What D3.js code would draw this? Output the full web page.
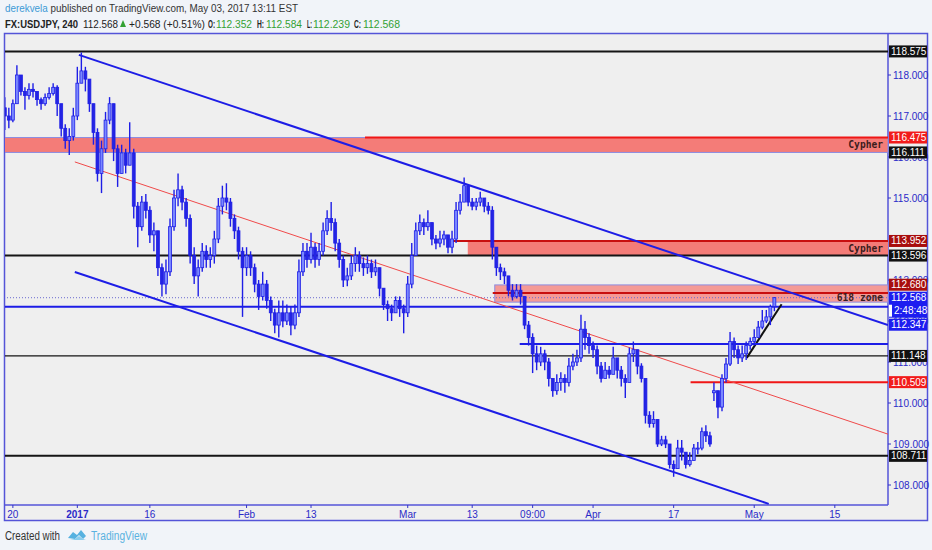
<!DOCTYPE html>
<meta charset="utf-8">
<style>
    body { margin: 0; background: #f1f4f9; }
    svg { display: block; font-family: "Liberation Sans", Arial, sans-serif; }
    .ptick text, .ttick text { fill: #2a2ac8; font-size: 10px; }
    .tag text { fill: #fff; font-size: 10px; }
    .zname { font-family: "DejaVu Sans Mono", monospace; font-weight: bold; font-size: 9.6px; fill: #3b1c1c; }
</style>
<body>
<script src="https://d3js.org/d3.v7.min.js"></script>
<script>
// 12h bars, USDJPY, starting one session before Dec 20
var firstDay = -1, barStep = 0.5, firstOpen = 117.2;
var closes = [
 117.0, 116.9, 117.3, 118.0, 117.6, 117.5, 117.65, 117.6, 117.4, 117.3,
 117.45, 117.55, 117.7, 117.3, 116.7, 116.4, 116.5, 117.0, 117.8, 118.1,
 117.9, 117.3, 116.6, 115.6, 116.2, 116.9, 117.3, 116.2, 115.6, 116.1,
 115.8, 116.1, 114.8, 114.3, 114.9, 114.7, 114.1, 114.2, 113.3, 112.9,
 113.2, 114.3, 115.0, 115.2, 114.9, 114.5, 113.6, 113.1, 113.3, 113.7,
 113.5, 113.6, 114.0, 114.8, 115.0, 114.9, 114.5, 114.2, 113.7, 113.3,
 113.6, 113.3, 112.9, 112.6, 112.9, 112.5, 112.2, 111.9, 112.2, 112.0,
 112.2, 111.9, 112.2, 113.2, 113.7, 113.5, 113.8, 113.5, 113.7, 114.2,
 114.5, 114.4, 113.9, 113.5, 113.0, 113.1, 113.4, 113.6, 113.4, 113.3,
 113.4, 113.2, 113.3, 112.8, 112.4, 112.3, 112.2, 112.5, 112.3, 112.2,
 112.9, 113.6, 114.2, 114.4, 114.3, 114.4, 114.0, 113.9, 114.0, 114.1,
 113.8, 114.0, 114.7, 114.9, 115.3, 114.9, 114.8, 114.9, 115.0, 114.8,
 114.7, 113.8, 113.3, 113.2, 113.1, 112.75, 112.6, 112.75, 112.6, 111.9,
 111.6, 111.2, 111.0, 111.2, 111.0, 110.6, 110.3, 110.5, 110.6, 110.5,
 110.9, 111.0, 111.1, 111.8, 111.6, 111.4, 111.3, 110.9, 110.6, 110.8,
 110.7, 111.1, 110.8, 110.6, 110.5, 111.2, 111.3, 110.9, 110.6, 109.7,
 109.5, 109.6, 109.0, 109.1, 109.0, 108.5, 108.4, 108.9, 108.8, 108.5,
 108.6, 108.9, 108.9, 109.3, 109.2, 109.0, 110.3, 109.9, 110.6, 110.95,
 111.5, 111.3, 111.1, 111.2, 111.4, 111.5, 111.6, 111.85, 112.0, 112.1,
 112.352, 112.568
];
var highs = [
 117.46, 117.2, 117.4, 118.24, 118.0, 117.7, 117.8, 117.8, 117.6, 117.45,
 117.55, 117.7, 117.8, 117.75, 117.1, 116.8, 116.7, 117.2, 118.2, 118.55,
 118.2, 117.7, 117.2, 116.7, 116.4, 117.1, 117.46, 117.2, 116.3, 116.3,
 116.2, 116.85, 116.2, 114.9, 115.05, 115.1, 114.8, 114.4, 114.2, 113.4,
 113.5, 114.5, 115.2, 115.6, 115.3, 115.0, 114.6, 113.8, 113.5, 113.9,
 113.85, 113.8, 114.2, 115.0, 115.3, 115.36, 115.0, 114.6, 114.3, 113.8,
 113.8, 113.7, 113.4, 113.0, 113.2, 113.0, 112.6, 112.3, 112.5, 112.5,
 112.4, 112.35, 112.4, 113.5, 113.9, 113.9, 114.15, 113.9, 113.9, 114.4,
 114.7, 114.9, 114.5, 114.0, 113.6, 113.3, 113.6, 113.8, 113.7, 113.55,
 113.6, 113.5, 113.5, 113.3, 112.8, 112.5, 112.4, 112.6, 112.6, 112.4,
 113.1, 113.9, 114.4, 114.6, 114.5, 114.7, 114.4, 114.1, 114.2, 114.2,
 114.1, 114.2, 114.9, 115.1, 115.5, 115.3, 115.0, 115.0, 115.15, 115.0,
 114.9, 114.8, 113.6, 113.4, 113.3, 113.1, 112.9, 112.9, 112.9, 112.6,
 112.0, 111.7, 111.4, 111.37, 111.3, 111.1, 110.6, 110.7, 110.75, 110.7,
 111.1, 111.2, 111.3, 112.15, 112.0, 111.7, 111.5, 111.4, 111.0, 111.0,
 110.9, 111.37, 111.1, 110.9, 110.7, 111.35, 111.5, 111.3, 110.97, 110.6,
 109.8, 109.8, 109.6, 109.2, 109.2, 109.0, 108.6, 109.1, 109.1, 108.8,
 108.8, 109.0, 109.05, 109.4, 109.46, 109.3, 110.5, 110.3, 110.7, 111.1,
 111.73, 111.6, 111.4, 111.4, 111.5, 111.6, 111.8, 112.0, 112.27, 112.27,
 112.4, 112.584
];
var lows = [
 116.66, 116.7, 116.85, 117.3, 117.5, 117.15, 117.4, 117.45, 117.25, 117.15,
 117.25, 117.4, 117.5, 117.0, 116.5, 116.2, 116.05, 116.4, 116.9, 117.8,
 117.6, 117.1, 116.3, 115.4, 115.12, 116.1, 116.8, 115.9, 115.27, 115.6,
 115.6, 115.8, 114.5, 113.8, 114.2, 114.5, 113.9, 113.7, 113.1, 112.6,
 112.65, 113.1, 114.2, 114.8, 114.7, 114.3, 113.4, 112.9, 112.6, 113.2,
 113.3, 113.3, 113.4, 113.9, 114.6, 114.7, 114.3, 114.0, 113.5, 112.1,
 113.1, 113.1, 112.7, 112.27, 112.5, 112.3, 112.0, 111.7, 111.6, 111.85,
 111.9, 111.65, 111.8, 112.1, 113.1, 113.3, 113.4, 113.3, 113.35, 113.6,
 114.1, 114.2, 113.7, 113.3, 112.83, 112.85, 113.0, 113.2, 113.2, 113.1,
 113.15, 113.05, 113.1, 112.6, 112.27, 112.0, 112.0, 112.2, 112.1, 111.7,
 112.1, 112.8, 113.6, 114.1, 114.1, 114.2, 113.85, 113.75, 113.8, 113.85,
 113.65, 113.65, 113.9, 114.6, 114.9, 114.8, 114.7, 114.7, 114.8, 114.65,
 114.6, 113.5, 113.1, 113.0, 112.9, 112.6, 112.5, 112.55, 112.4, 111.8,
 111.4, 110.73, 110.8, 110.9, 110.8, 110.4, 110.15, 110.2, 110.3, 110.25,
 110.4, 110.8, 110.9, 111.0, 111.3, 111.2, 111.1, 110.7, 110.5, 110.6,
 110.6, 110.7, 110.6, 110.4, 110.12, 110.5, 111.0, 110.7, 110.5, 109.5,
 109.4, 109.4, 108.93, 108.95, 108.9, 108.4, 108.2, 108.4, 108.6, 108.4,
 108.45, 108.6, 108.75, 108.85, 109.05, 108.93, 110.05, 109.63, 109.8, 110.5,
 110.9, 111.1, 110.95, 111.0, 111.05, 111.3, 111.4, 111.6, 111.8, 111.95,
 111.9, 112.239
];
// weekend gap (French election open)
var gapBars = [176];
var gapOpens = [110.25];

var priceTicks = [108, 109, 110, 111, 112, 113, 114, 115, 116, 117, 118];
var timeTicks = [0, 8, 17, 29, 37, 49, 57, 64.5, 72, 82, 92, 102];
var timeLabels = ["20", "2017", "16", "Feb", "13", "Mar", "13", "09:00", "Apr", "17", "May", "15"];

// drawings
var blackLevels = [118.575, 113.596, 111.148, 108.711];
var blueLevel = 112.347;
var lastPrice = 112.568;
var zoneFrom = [-1.1, 56.45, 59.8];
var zoneTop = [116.475, 113.952, 112.88];
var zoneBottom = [116.111, 113.596, 112.46];
var zoneNames = ["Cypher", "Cypher", "618 zone"];
var redFrom = [43.7, 54.6, 59.55, 84.1];
var redPrice = [116.475, 113.952, 112.68, 110.509];
var trendD1 = [8.19, 7.69, 7.69, 91.07, 62.9];
var trendP1 = [118.49, 113.195, 115.88, 111.1, 111.44];
var trendD2 = [108.6, 93.8, 108.6, 95.4, 108.6];
var trendP2 = [111.9, 107.54, 109.24, 112.41, 111.44];
var trendColor = ["#1d1de6", "#1d1de6", "#f04a4a", "#111", "#1d1de6"];
var trendWidth = [2, 2, 1, 2, 2];

// right-hand price tags
var tagPrice = [118.575, 116.475, 116.111, 113.952, 113.596, 112.680, 112.347, 111.148, 110.509, 108.711];
var tagColor = ["#111", "#f21b1b", "#111", "#a80d0d", "#111", "#a80d0d", "#1d1df0", "#111", "#f21b1b", "#111"];

var W = 932, H = 550;
var L = 4, R = 888, T = 34, B = 505;

var svg = d3.select("body").append("svg").attr("width", W).attr("height", H);
svg.append("rect").attr("width", W).attr("height", H).attr("fill", "#f1f4f9");

var x = d3.scaleLinear().domain([-1.1, 108.6]).range([L, R]);
var y = d3.scaleLinear().domain([108, 118]).range([485, 75]);

// frame
svg.append("rect").attr("x", L + 0.5).attr("y", T - 0.5).attr("width", 923).attr("height", 487)
    .attr("fill", "#efefef").attr("stroke", "#5454d8").attr("stroke-width", 1.5);
svg.append("line").attr("x1", R).attr("x2", R).attr("y1", T).attr("y2", B).attr("stroke", "#5454d8").attr("stroke-width", 1.5);
svg.append("line").attr("x1", L).attr("x2", R).attr("y1", B).attr("y2", B).attr("stroke", "#5454d8").attr("stroke-width", 1.5);

svg.append("clipPath").attr("id", "plot").append("rect")
    .attr("x", L + 1).attr("y", T).attr("width", R - L - 1).attr("height", B - T);
var g = svg.append("g").attr("clip-path", "url(#plot)");

// zones
zoneTop.forEach(function(tp, i) {
    g.append("rect")
        .attr("x", x(zoneFrom[i])).attr("y", y(tp))
        .attr("width", R - x(zoneFrom[i])).attr("height", y(zoneBottom[i]) - y(tp))
        .attr("fill", i == 2 ? "#f49a96" : "#f47c78")
        .attr("stroke", i == 1 ? "none" : "#8c8ce0").attr("stroke-width", 1);
});

// full width levels
blackLevels.forEach(function(p, i) {
    g.append("line").attr("x1", L).attr("x2", R).attr("y1", y(p)).attr("y2", y(p))
        .attr("stroke", "#151515").attr("stroke-width", i == 2 ? 1.2 : 2);
});
g.append("line").attr("x1", L).attr("x2", R).attr("y1", y(blueLevel)).attr("y2", y(blueLevel))
    .attr("stroke", "#1d1de6").attr("stroke-width", 2);
g.append("line").attr("x1", L).attr("x2", R).attr("y1", y(lastPrice)).attr("y2", y(lastPrice))
    .attr("stroke", "#6a6ad0").attr("stroke-width", 1).attr("stroke-dasharray", "1,2");

redPrice.forEach(function(p, i) {
    g.append("line").attr("x1", x(redFrom[i])).attr("x2", R).attr("y1", y(p)).attr("y2", y(p))
        .attr("stroke", i == 1 || i == 2 ? "#c80f0f" : "#f01616").attr("stroke-width", 2);
});

// trend lines
trendD1.forEach(function(d, i) {
    g.append("line")
        .attr("x1", x(d)).attr("y1", y(trendP1[i]))
        .attr("x2", x(trendD2[i])).attr("y2", y(trendP2[i]))
        .attr("stroke", trendColor[i]).attr("stroke-width", trendWidth[i]);
});

// candles
var bars = closes.map(function(c, i) {
    var k = gapBars.indexOf(i);
    var o = k >= 0 ? gapOpens[k] : (i ? closes[i - 1] : firstOpen);
    return { d: firstDay + i * barStep, o: o, h: highs[i], l: lows[i], c: c };
});
var bw = (x(barStep) - x(0)) * 0.72;
var cg = g.append("g").selectAll("g").data(bars).join("g");
cg.append("line")
    .attr("x1", d => x(d.d)).attr("x2", d => x(d.d))
    .attr("y1", d => y(Math.max(d.h, d.o, d.c))).attr("y2", d => y(Math.min(d.l, d.o, d.c)))
    .attr("stroke", "#1e1ee6").attr("stroke-width", 1.4);
cg.append("rect")
    .attr("x", d => x(d.d) - bw / 2).attr("width", bw)
    .attr("y", d => y(Math.max(d.o, d.c)))
    .attr("height", d => Math.max(1, Math.abs(y(d.o) - y(d.c))))
    .attr("fill", d => d.c >= d.o ? "#7a88ff" : "#2424e4")
    .attr("stroke", "#1e1ee6").attr("stroke-width", 0.8);

// zone captions
zoneNames.forEach(function(n, i) {
    var yy = i == 2 ? y(lastPrice) + 3.5 : (y(zoneTop[i]) + y(zoneBottom[i])) / 2 + 3.5;
    svg.append("text").attr("class", "zname").attr("x", R - 5).attr("y", yy)
        .attr("text-anchor", "end").text(n);
});

// price axis (labels hidden under a tag are dropped)
var tagYs = tagPrice.map(y);
var shown = priceTicks.filter(p => !tagYs.some(t => Math.abs(t - y(p)) < 4));
var pt = svg.append("g").attr("class", "ptick").selectAll("g").data(shown).join("g")
    .attr("transform", d => "translate(" + R + "," + y(d) + ")");
pt.append("line").attr("x2", 3).attr("stroke", "#3434c8");
pt.append("text").attr("x", 5).attr("dy", "0.35em").text(d => d3.format(".3f")(d));

// time axis
var tt = svg.append("g").attr("class", "ttick").selectAll("g").data(timeTicks).join("g")
    .attr("transform", d => "translate(" + x(d) + "," + B + ")");
tt.append("line").attr("y2", 3).attr("stroke", "#3434c8");
tt.append("text").attr("y", 13).attr("text-anchor", "middle")
    .attr("font-weight", (d, i) => timeLabels[i] == "2017" ? "bold" : null)
    .text((d, i) => timeLabels[i]);

// price tags, pushed away from the live price box
var liveY = y(lastPrice), liveTop = liveY - 6, liveBot = liveY + 20;
var tags = svg.append("g").attr("class", "tag");
tagPrice.forEach(function(p, i) {
    var ty = y(p);
    if (ty + 6 > liveTop && ty - 6 < liveBot) ty = ty < liveY ? liveTop - 7 : liveBot + 7;
    var tg = tags.append("g").attr("transform", "translate(" + R + "," + ty + ")");
    tg.append("rect").attr("x", 1).attr("y", -6).attr("width", 38).attr("height", 12).attr("fill", tagColor[i]);
    tg.append("text").attr("x", 3).attr("dy", "0.35em").text(d3.format(".3f")(p));
});
var live = tags.append("g").attr("transform", "translate(" + R + "," + liveY + ")");
live.append("rect").attr("x", 1).attr("y", -6).attr("width", 38).attr("height", 26).attr("fill", "#1d1df0");
live.append("rect").attr("x", 1).attr("y", 7).attr("width", 3).attr("height", 12).attr("fill", "#fff");
live.append("text").attr("x", 3).attr("dy", "0.35em").text(d3.format(".3f")(lastPrice));
live.append("text").attr("x", 6).attr("y", 13).attr("dy", "0.35em").text("2:48:48");

// header
var hd = svg.append("g").attr("font-size", "11.5px");
var l1 = hd.append("text").attr("x", 5).attr("y", 12).attr("fill", "#333");
l1.append("tspan").attr("fill", "#3d9ad6").text("derekvela");
l1.append("tspan").text(" published on TradingView.com, May 03, 2017 13:11 EST");
l1.attr("textLength", 293).attr("lengthAdjust", "spacingAndGlyphs");

var green = "#33a133";
var parts = [
    ["FX:USDJPY, 240", 5, 73, "#222", "bold"],
    ["112.568", 83, 35, "#222", null],
    ["+0.568 (+0.51%)", 129, 76, "#222", null],
    ["O:", 208, 7, "#222", "bold"], ["112.352", 216, 36, green, null],
    ["H:", 257, 7, "#222", "bold"], ["112.584", 266, 36, green, null],
    ["L:", 307, 5, "#222", "bold"], ["112.239", 313, 37, green, null],
    ["C:", 354, 7, "#222", "bold"], ["112.568", 363, 37, green, null]
];
parts.forEach(function(p) {
    hd.append("text").attr("x", p[1]).attr("y", 27.5).attr("fill", p[3]).attr("font-weight", p[4])
        .attr("textLength", p[2]).attr("lengthAdjust", "spacingAndGlyphs").text(p[0]);
});
hd.append("path").attr("d", "M120,27 L123,20 L126,27 Z").attr("fill", green);

// footer
svg.append("text").attr("x", 5).attr("y", 540).attr("font-size", "12px").attr("fill", "#333")
    .attr("textLength", 55).attr("lengthAdjust", "spacingAndGlyphs").text("Created with");
svg.append("path").attr("d", "M68,538 L73,532 L77,535 L81,530 L86,536 L83,539 L79,535 L75,539 Z").attr("fill", "#56b1e0");
svg.append("path").attr("d", "M70,540 L75,539 L79,536 L83,539 L86,540 Z").attr("fill", "#8acdee");
svg.append("text").attr("x", 91).attr("y", 540).attr("font-size", "12px").attr("fill", "#5ab2e0")
    .attr("textLength", 56).attr("lengthAdjust", "spacingAndGlyphs").text("TradingView");
</script>
</body>
